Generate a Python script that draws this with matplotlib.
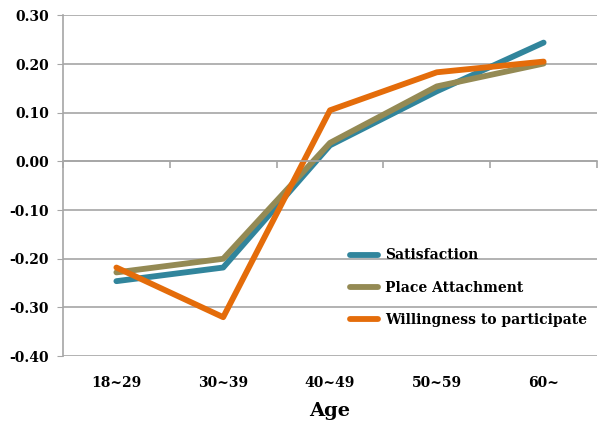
import matplotlib.pyplot as plt
import numpy as np

ages = ['18~29', '30~39', '40~49', '50~59', '60~']
satisfaction = [-0.246, -0.218, 0.033, 0.144, 0.244]
place_attachment = [-0.228, -0.200, 0.038, 0.154, 0.201]
willingness = [-0.218, -0.320, 0.105, 0.183, 0.205]
yticks = [0.30, 0.20, 0.10, 0.00, -0.10, -0.20, -0.30, -0.40]

plt.rcParams['font.family'] = ['DejaVu Serif']
plt.rcParams['font.weight'] = 'bold'

fig = plt.figure(figsize=(6, 4.26), dpi=100)
ax = fig.add_axes([0.105, 0.164, 0.89, 0.8])

x = np.arange(len(ages))
ax.plot(x, satisfaction, color='#31859C', lw=4.2, label='Satisfaction', solid_capstyle='round')
ax.plot(x, place_attachment, color='#948A54', lw=4.2, label='Place Attachment', solid_capstyle='round')
ax.plot(x, willingness, color='#E46C0A', lw=4.2, label='Willingness to participate', solid_capstyle='round')

ax.set_xlim(-0.5, len(ages) - 0.5)
ax.set_ylim(-0.40, 0.30)
ax.set_yticks(yticks)
ax.set_yticklabels(['%.2f' % v for v in yticks], fontsize=10, fontweight='bold')
ax.yaxis.grid(True, color='#a6a6a6', lw=1.2)
ax.set_axisbelow(True)

# category axis sits on the zero line
ax.spines['bottom'].set_position(('data', 0))
ax.spines['bottom'].set_color('#a6a6a6')
ax.spines['bottom'].set_linewidth(1.2)
ax.spines['left'].set_color('#a6a6a6')
ax.spines['left'].set_linewidth(1.2)
ax.spines['top'].set_visible(False)
ax.spines['right'].set_visible(False)
ax.tick_params(axis='y', length=4, color='#a6a6a6', pad=6)
ax.set_xticks(np.arange(len(ages) + 1) - 0.5)
ax.set_xticklabels([])
ax.tick_params(axis='x', length=5, color='#a6a6a6', width=1.2)

for i, a in enumerate(ages):
    ax.text(i, -0.455, a, ha='center', va='center', fontsize=10, fontweight='bold')
ax.text(2, -0.512, 'Age', ha='center', va='center', fontsize=14, fontweight='bold')

ax.legend(loc='lower right', bbox_to_anchor=(1.005, 0.05), frameon=False,
          handlelength=2.0, labelspacing=1.3, handletextpad=0.5,
          prop={'weight': 'bold', 'size': 10})

fig.savefig('out.png', dpi=100)
